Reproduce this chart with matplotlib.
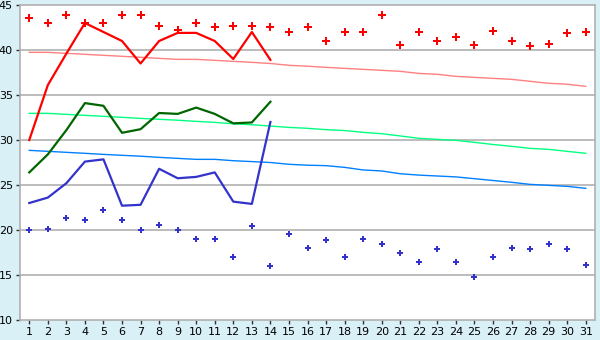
import matplotlib
matplotlib.use("Agg")
import matplotlib.pyplot as plt

# days of the month
days = list(range(1, 32))

# record highs / lows (scatter)
rec_high = [43.6, 43.0, 43.9, 43.0, 43.0, 43.9, 43.9, 42.7, 42.2, 43.0,
            42.6, 42.7, 42.7, 42.6, 42.0, 42.6, 41.0, 42.0, 42.0, 43.85,
            40.6, 42.0, 41.0, 41.4, 40.6, 42.1, 41.0, 40.4, 40.7, 41.85, 42.0]
rec_low = [20.0, 20.1, 21.3, 21.1, 22.2, 21.1, 20.0, 20.6, 20.0, 19.0,
           19.0, 17.0, 20.5, 16.0, 19.6, 18.0, 18.85, 17.0, 19.0, 18.5,
           17.5, 16.5, 17.85, 16.5, 14.75, 17.0, 18.0, 17.85, 18.4, 17.85, 16.1]

# observed max / mean / min (first 14 days)
obs_days = days[:14]
obs_max = [30.0, 36.1, 39.6, 43.0, 42.0, 41.0, 38.5, 41.0, 41.9, 41.9,
           41.0, 39.0, 42.0, 38.9]
obs_mean = [26.4, 28.4, 31.1, 34.1, 33.8, 30.8, 31.2, 33.0, 32.9, 33.6,
            32.9, 31.85, 31.95, 34.25]
obs_min = [23.0, 23.6, 25.2, 27.6, 27.85, 22.7, 22.8, 26.8, 25.75, 25.9,
           26.4, 23.15, 22.9, 32.0]

# normals
norm_max = [39.74, 39.74, 39.63, 39.52, 39.41, 39.3, 39.19, 39.07, 38.96, 38.96,
            38.85, 38.74, 38.63, 38.5, 38.3, 38.2, 38.07, 37.96, 37.85, 37.74,
            37.63, 37.4, 37.3, 37.07, 36.96, 36.85, 36.74, 36.52, 36.3, 36.2, 35.96]
norm_mean = [32.96, 32.96, 32.85, 32.74, 32.63, 32.52, 32.4, 32.3, 32.2, 32.07,
             31.96, 31.8, 31.7, 31.55, 31.4, 31.3, 31.15, 31.05, 30.85, 30.7,
             30.45, 30.19, 30.07, 29.96, 29.74, 29.5, 29.3, 29.07, 28.96, 28.74, 28.52]
norm_min = [28.85, 28.74, 28.63, 28.52, 28.4, 28.3, 28.2, 28.07, 27.96, 27.85,
            27.85, 27.7, 27.6, 27.5, 27.3, 27.2, 27.15, 26.96, 26.67, 26.56,
            26.25, 26.1, 26.0, 25.9, 25.7, 25.5, 25.3, 25.07, 24.96, 24.85, 24.63]

fig = plt.figure(figsize=(6, 3.4), dpi=100, facecolor="#d9f0f7")
ax = fig.add_axes([20 / 600, 20 / 340, 575 / 600, 315 / 340])
ax.set_facecolor("white")

for y in range(15, 45, 5):
    ax.axhline(y, color="#b0b0b0", lw=1.2, zorder=0)

ax.plot(days, norm_max, color="#ff8080", lw=1, zorder=1)
ax.plot(days, norm_mean, color="#00ff80", lw=1, zorder=1)
ax.plot(days, norm_min, color="#0080ff", lw=1, zorder=1)

ax.plot(obs_days, obs_max, color="#ff0000", lw=1.6, zorder=2)
ax.plot(obs_days, obs_mean, color="#006600", lw=1.6, zorder=2)
ax.plot(obs_days, obs_min, color="#3333cc", lw=1.6, zorder=2)

ax.plot(days, rec_high, "P", color="#ff0000", ms=5.2, mew=0, ls="none", zorder=3)
ax.plot(days, rec_low, "P", color="#3333cc", ms=4.5, mew=0, ls="none", zorder=3)

ax.set_xlim(0.5, 31.5)
ax.set_ylim(10, 45)
ax.set_xticks(days)
ax.set_yticks(range(10, 50, 5))
ax.tick_params(labelsize=8, length=3, color="#333333", width=1, pad=2)
for s in ax.spines.values():
    s.set_color("#b0b0b0")
    s.set_linewidth(1.2)

fig.savefig("out.png", dpi=100, facecolor=fig.get_facecolor())
